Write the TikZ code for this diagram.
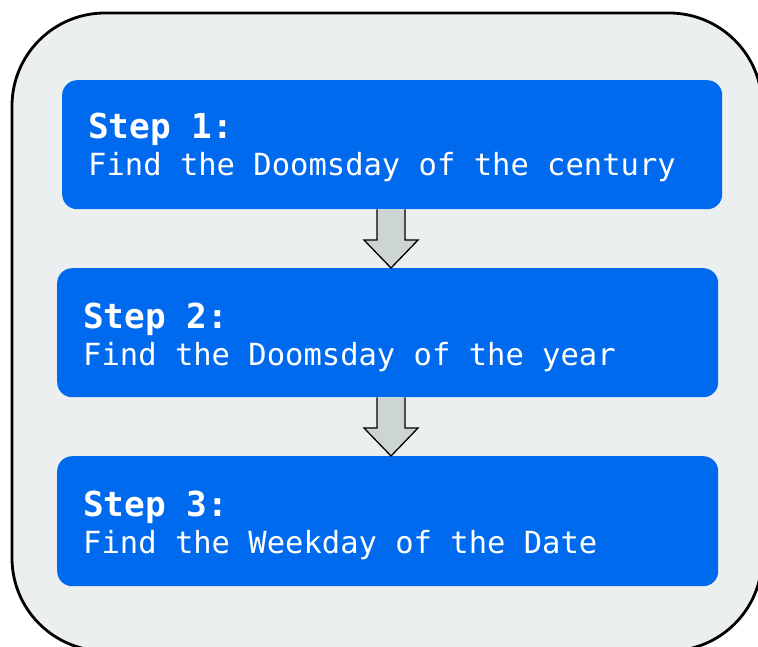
\documentclass[tikz,border=0pt]{standalone}
\usepackage{fontspec}
\newfontfamily\stepfont{DejaVu Sans Mono}
\usetikzlibrary{calc}
\definecolor{outerfill}{RGB}{236,239,239}
\definecolor{stepblue}{RGB}{0,106,238}
\definecolor{arrowfill}{RGB}{204,212,212}
\tikzset{
  outerbox/.style={draw=black, line width=2.8pt, fill=outerfill, rounded corners=93pt},
  stepbox/.style={fill=stepblue, draw=none, rounded corners=15pt, inner sep=0pt, anchor=north west},
  steptitle/.style={text=white, inner sep=0pt, anchor=base west, font=\stepfont\bfseries\fontsize{34.4}{40}\selectfont},
  stepdesc/.style={text=white, inner sep=0pt, anchor=base west, font=\stepfont\fontsize{30.5}{36}\selectfont},
  blockarrow/.style={draw=black, line width=1.3pt, fill=arrowfill, line join=miter}
}
\begin{document}
\begin{tikzpicture}[x=1pt,y=-1pt]
\useasboundingbox (0,0) rectangle (758,647);
\draw[outerbox] (12,13) rectangle (762,651);
\node[stepbox, minimum width=660pt, minimum height=129pt] (b1) at (62,80) {};
\node[stepbox, minimum width=661pt, minimum height=129pt] (b2) at (57,268) {};
\node[stepbox, minimum width=661pt, minimum height=130pt] (b3) at (57,456) {};
\node[steptitle] (t1) at (88,139) {Step 1:};
\node[stepdesc] (d1) at (88,176) {Find the Doomsday of the century};
\node[steptitle] (t2) at (83,328) {Step 2:};
\node[stepdesc] (d2) at (83,365) {Find the Doomsday of the year};
\node[steptitle] (t3) at (83,516) {Step 3:};
\node[stepdesc] (d3) at (83,553) {Find the Weekday of the Date};
\draw[blockarrow] let \p1=(b1.south), \p2=(b2.north) in
  (377,\y1) -- (377pt,\y2+28pt) -- (364pt,\y2+28pt) -- (391,\y2) -- (418pt,\y2+28pt) -- (405pt,\y2+28pt) -- (405,\y1);
\draw[blockarrow] let \p1=(b2.south), \p2=(b3.north) in
  (377,\y1) -- (377pt,\y2+28pt) -- (364pt,\y2+28pt) -- (391,\y2) -- (418pt,\y2+28pt) -- (405pt,\y2+28pt) -- (405,\y1);
\end{tikzpicture}
\end{document}
